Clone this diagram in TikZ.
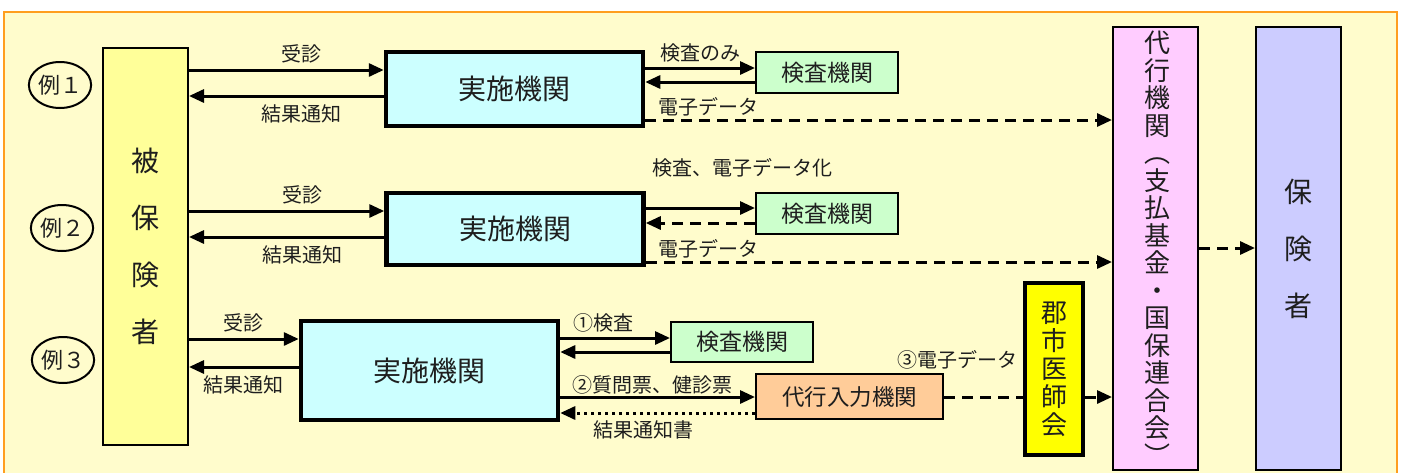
\documentclass[tikz,border=0pt]{standalone}
\usepackage{fontspec}
\setmainfont{Noto Sans CJK JP}
\usetikzlibrary{arrows.meta}
\definecolor{framefill}{HTML}{FFFCCC}
\definecolor{frameline}{HTML}{FF9E1F}
\definecolor{hifill}{HTML}{FFFF99}
\definecolor{jfill}{HTML}{CCFFFF}
\definecolor{kfill}{HTML}{CCFFCC}
\definecolor{dnfill}{HTML}{FFCC99}
\definecolor{gsfill}{HTML}{FFFF00}
\definecolor{dkfill}{HTML}{FFCCFF}
\definecolor{hkfill}{HTML}{CCCCFF}
\definecolor{txt}{HTML}{1E1E1E}
\tikzset{
  box/.style={draw=black, line width=2pt, inner sep=0pt, text=txt},
  thickbox/.style={draw=black, line width=4.5pt, inner sep=0pt, text=txt},
  lbl/.style={font=\fontsize{20}{24}\selectfont, inner sep=0pt, text=txt},
  arr/.style={line width=3pt, -{Triangle[length=15pt,width=13pt]}},
  darr/.style={arr, dash pattern=on 11pt off 7pt},
  dline/.style={line width=3pt, dash pattern=on 11pt off 7pt},
  dotarr/.style={arr, dash pattern=on 3pt off 4pt},
  exm/.style={draw=black, line width=2pt, ellipse, minimum width=56pt, minimum height=46pt, inner sep=0pt, font=\fontsize{22}{26}\selectfont, text=txt},
}
\usetikzlibrary{shapes.geometric}
\begin{document}
\begin{tikzpicture}[x=1pt,y=-1pt]
\useasboundingbox (0,0) rectangle (1405,472);
\fill[white] (0,0) rectangle (1405,472);
\filldraw[fill=framefill, draw=frameline, line width=2pt] (4,12) -- (4,480) -- (1397,480) -- (1397,12) -- cycle;

% examples
\node[exm] (e1) at (60,85) {例１};
\node[exm] (e2) at (62,228) {例２};
\node[exm] (e3) at (63,360) {例３};

% main boxes
\node[box, fill=hifill, minimum width=85pt, minimum height=397pt, align=center,
      font=\fontsize{28}{57}\selectfont] (hi) at (145.5,246.5) {被\\保\\険\\者};
\node[thickbox, fill=jfill, minimum width=257pt, minimum height=74pt,
      font=\fontsize{28}{34}\selectfont] (jA) at (514.5,89) {実施機関};
\node[thickbox, fill=jfill, minimum width=257pt, minimum height=72pt,
      font=\fontsize{28}{34}\selectfont] (jB) at (515,229) {実施機関};
\node[thickbox, fill=jfill, minimum width=257pt, minimum height=99pt,
      font=\fontsize{28}{34}\selectfont] (jC) at (429.5,370.5) {実施機関};
\node[box, fill=kfill, minimum width=142pt, minimum height=41pt,
      font=\fontsize{23}{28}\selectfont] (kA) at (827,72.5) {検査機関};
\node[box, fill=kfill, minimum width=142pt, minimum height=41pt,
      font=\fontsize{23}{28}\selectfont] (kB) at (827,213.5) {検査機関};
\node[box, fill=kfill, minimum width=142pt, minimum height=40pt,
      font=\fontsize{23}{28}\selectfont] (kC) at (742,342) {検査機関};
\node[box, fill=dnfill, minimum width=187pt, minimum height=45pt,
      font=\fontsize{22.5}{28}\selectfont] (dn) at (849.5,396.5) {代行入力機関};
\node[thickbox, fill=gsfill, minimum width=58pt, minimum height=172pt, align=center,
      font=\fontsize{26}{28}\selectfont] (gs) at (1054,369) {郡\\市\\医\\師\\会};
\node[box, fill=dkfill, minimum width=85pt, minimum height=443pt] (dk) at (1155.5,248.5) {};
\node[inner sep=0pt, align=center, text=txt, font=\fontsize{26}{27.5}\selectfont] (dkt) at (1157,248)
  {代\\行\\機\\関\\︵\\支\\払\\基\\金\\・\\国\\保\\連\\合\\会\\︶};
\node[box, fill=hkfill, minimum width=85pt, minimum height=443pt, align=center,
      font=\fontsize{28}{57}\selectfont] (hk) at (1298.5,248.5) {保\\険\\者};

% row 1
\draw[arr] (hi.east |- 0,70) -- (jA.west |- 0,70) node[lbl, pos=.58, above=5pt] (l1a) {受診};
\draw[arr] (jA.west |- 0,96) -- (hi.east |- 0,96) node[lbl, pos=.42, below=7pt] (l1b) {結果通知};
\draw[arr] (jA.east |- 0,68) -- (kA.west |- 0,68) node[lbl, midway, above=4pt] (l1c) {検査のみ};
\draw[arr] (kA.west |- 0,82) -- (jA.east |- 0,82);
\draw[darr] (jA.east |- 0,120) -- (dk.west |- 0,120);
\node[lbl, anchor=west] (l1d) at (658,107) {電子データ};

% row 2
\draw[arr] (hi.east |- 0,211) -- (jB.west |- 0,211) node[lbl, pos=.58, above=5pt] (l2a) {受診};
\draw[arr] (jB.west |- 0,237) -- (hi.east |- 0,237) node[lbl, pos=.42, below=7pt] (l2b) {結果通知};
\draw[arr] (jB.east |- 0,208) -- (kB.west |- 0,208);
\draw[darr] (kB.west |- 0,223) -- (jB.east |- 0,223);
\node[lbl] (l2c) at (742,168) {検査、電子データ化};
\draw[darr] (jB.east |- 0,262) -- (dk.west |- 0,262);
\node[lbl, anchor=west] (l2d) at (658,249) {電子データ};

% row 3
\draw[arr] (hi.east |- 0,339) -- (jC.west |- 0,339) node[lbl, midway, above=5pt] (l3a) {受診};
\draw[arr] (jC.west |- 0,367) -- (hi.east |- 0,367) node[lbl, midway, below=7pt] (l3b) {結果通知};
\draw[arr] (jC.east |- 0,338) -- (kC.west |- 0,338);
\node[lbl, anchor=west] (l3c) at (573,323) {①検査};
\draw[arr] (kC.west |- 0,352) -- (jC.east |- 0,352);
\draw[arr] (jC.east |- 0,397) -- (dn.west |- 0,397);
\node[lbl, anchor=west] (l3d) at (572,385) {②質問票、健診票};
\draw[dotarr] (dn.west |- 0,413) -- (jC.east |- 0,413);
\node[lbl, anchor=west] (l3e) at (593,430) {結果通知書};
\draw[dline] (dn.east |- 0,397) -- (gs.west |- 0,397);
\node[lbl, anchor=east] (l3f) at (1018,360) {③電子データ};
\draw[darr] (gs.east |- 0,397) -- (dk.west |- 0,397);

% right
\draw[darr] (dk.east |- 0,248) -- (hk.west |- 0,248);
\end{tikzpicture}
\end{document}
